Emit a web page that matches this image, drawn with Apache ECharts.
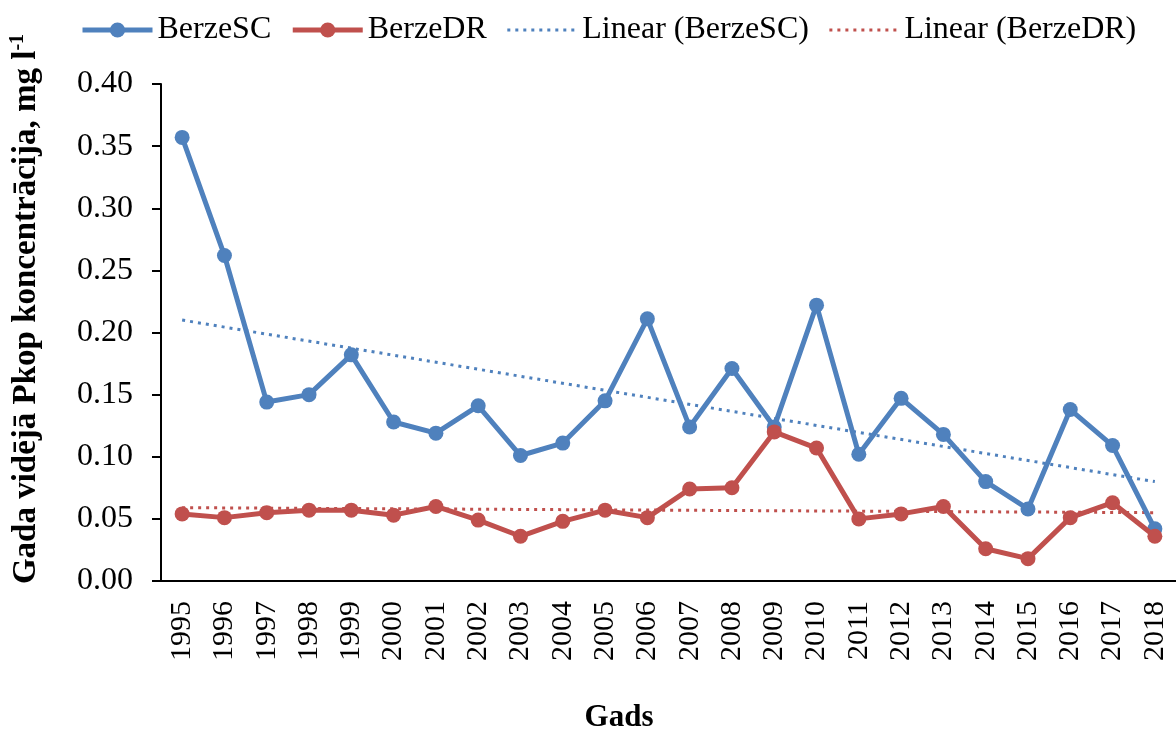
<!DOCTYPE html>
<html>
<head>
<meta charset="utf-8">
<script src="https://cdn.jsdelivr.net/npm/echarts@6/dist/echarts.min.js"></script>
<style>
  html, body { margin: 0; padding: 0; background: #fff; }
  #chart { width: 1176px; height: 735px; }
</style>
</head>
<body>
<div id="chart"></div>
<script>
const years = ["1995", "1996", "1997", "1998", "1999", "2000", "2001", "2002", "2003", "2004", "2005", "2006",
  "2007", "2008", "2009", "2010", "2011", "2012", "2013", "2014", "2015", "2016", "2017", "2018"];

const berzeSC = [0.357, 0.262, 0.144, 0.150, 0.182, 0.128, 0.119, 0.141, 0.101, 0.111, 0.145, 0.211,
  0.124, 0.171, 0.124, 0.222, 0.102, 0.147, 0.118, 0.080, 0.058, 0.138, 0.109, 0.042];

const berzeDR = [0.054, 0.051, 0.055, 0.057, 0.057, 0.053, 0.060, 0.049, 0.036, 0.048, 0.057, 0.051,
  0.074, 0.075, 0.120, 0.107, 0.050, 0.054, 0.060, 0.026, 0.018, 0.051, 0.063, 0.036];

// trend line end points
const trendSC = [["1995", 0.210], ["2018", 0.080]];
const trendDR = [["1995", 0.059], ["2018", 0.055]];

const yTicks = [0, 0.05, 0.1, 0.15, 0.2, 0.25, 0.3, 0.35, 0.4];

const blue = "#4f81bd";
const red = "#c0504d";
const font = "Liberation Serif";

const chart = echarts.init(document.getElementById("chart"));
chart.setOption({
  animation: false,
  textStyle: { fontFamily: font, color: "#000" },
  legend: {
    top: 9,
    left: 75,
    itemWidth: 70,
    itemHeight: 19,
    itemGap: 19,
    textStyle: { fontFamily: font, fontSize: 32, color: "#000" },
    data: [
      { name: "BerzeSC", lineStyle: { width: 5 } },
      { name: "BerzeDR", lineStyle: { width: 5 } },
      { name: "Linear (BerzeSC)", itemStyle: { opacity: 0 }, lineStyle: { width: 3 } },
      { name: "Linear (BerzeDR)", itemStyle: { opacity: 0 }, lineStyle: { width: 3 } }
    ]
  },
  grid: { left: 161, right: -4, top: 84, bottom: 154 },
  xAxis: {
    type: "category",
    data: years,
    boundaryGap: true,
    axisLine: { lineStyle: { color: "#000", width: 2 } },
    axisTick: { length: 9, lineStyle: { color: "#000", width: 2 } },
    axisLabel: { rotate: 90, fontSize: 30, margin: 20, color: "#000", fontFamily: font }
  },
  yAxis: {
    type: "value",
    min: yTicks[0],
    max: yTicks[yTicks.length - 1],
    interval: 0.05,
    splitLine: { show: false },
    axisLine: { show: true, lineStyle: { color: "#000", width: 2 } },
    axisTick: { show: true, length: 9, lineStyle: { color: "#000", width: 2 } },
    axisLabel: {
      fontSize: 32, margin: 28, color: "#000", fontFamily: font,
      formatter: v => v.toFixed(2)
    }
  },
  graphic: [
    {
      type: "text",
      x: 26, y: 309, rotation: Math.PI / 2,
      style: {
        text: "{b|Gada vidējā Pkop koncentrācija, mg l}{s|-1}",
        align: "center", verticalAlign: "middle",
        rich: {
          b: { fontFamily: font, fontSize: 33, fontWeight: "bold", lineHeight: 36, fill: "#000" },
          s: { fontFamily: font, fontSize: 20, fontWeight: "bold", lineHeight: 22, verticalAlign: "top", fill: "#000" }
        }
      }
    },
    {
      type: "text",
      x: 619, y: 718,
      style: {
        text: "Gads", fontFamily: font, fontSize: 31, fontWeight: "bold",
        align: "center", verticalAlign: "middle", fill: "#000"
      }
    }
  ],
  series: [
    {
      name: "BerzeSC", type: "line", data: berzeSC,
      symbol: "circle", symbolSize: 15,
      itemStyle: { color: blue },
      lineStyle: { color: blue, width: 5 },
      z: 3
    },
    {
      name: "BerzeDR", type: "line", data: berzeDR,
      symbol: "circle", symbolSize: 15,
      itemStyle: { color: red },
      lineStyle: { color: red, width: 5 },
      z: 4
    },
    {
      name: "Linear (BerzeSC)", type: "line", data: trendSC,
      symbol: "none",
      itemStyle: { color: blue },
      lineStyle: { color: blue, width: 3, type: [3, 5] },
      z: 2
    },
    {
      name: "Linear (BerzeDR)", type: "line", data: trendDR,
      symbol: "none",
      itemStyle: { color: red },
      lineStyle: { color: red, width: 3, type: [3, 5] },
      z: 2
    }
  ]
});
</script>
</body>
</html>
